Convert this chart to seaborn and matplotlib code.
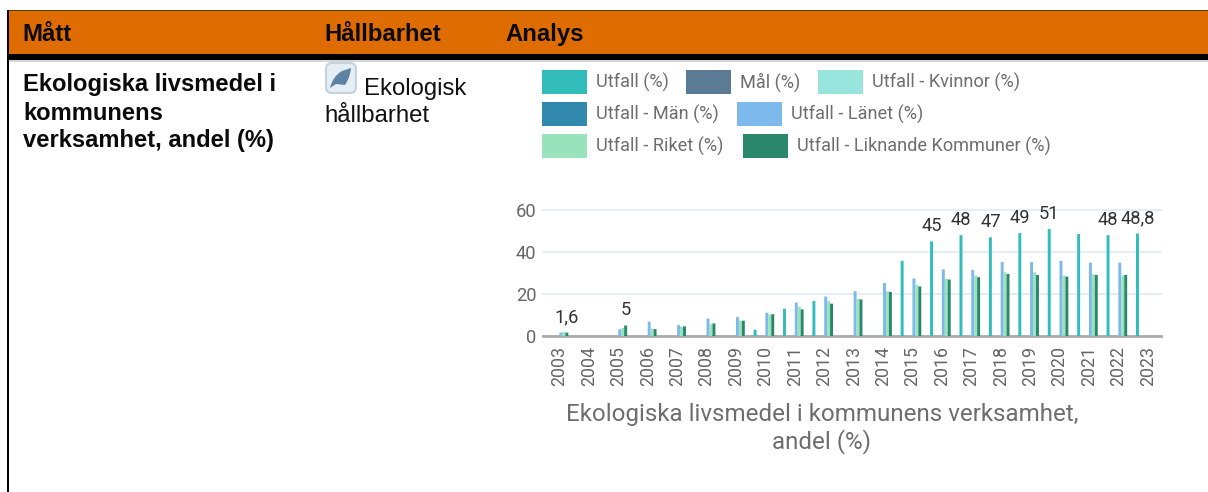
import numpy as np
import pandas as pd
import matplotlib
matplotlib.use("Agg")
import matplotlib.pyplot as plt
from matplotlib.patches import Rectangle, FancyBboxPatch, PathPatch
from matplotlib.path import Path
from matplotlib.transforms import ScaledTranslation
import seaborn as sns

years = [str(y) for y in range(2003, 2024)]
nan = float("nan")
utfall = [nan, nan, nan, nan, nan, nan, nan, 3, 13, 16.7, nan, nan, 35.8, 45, 48, 47, 49, 51, 48.6, 48, 48.8]
mal = [nan] * 21
kvinnor = [nan] * 21
man = [nan] * 21
lanet = [1.6, nan, 3.2, 6.8, 5.2, 8.3, 9, 11.1, 15.9, 18.8, 21.3, 25.2, 27.4, 31.7, 31.5, 35.2, 35.2, 35.8, 34.9, 34.9, nan]
riket = [1.9, nan, 3.8, 3.5, 4.3, 5.6, 7.3, 10.2, 13.9, 16.7, 17.7, 21.3, 24.4, 27.2, 28.8, 30.3, 30.3, 28.8, 29.3, 28.8, nan]
liknande = [1.6, nan, 5, 3.3, 4.6, 6, 7.3, 10.4, 12.7, 15.4, 17.4, 21, 23.6, 26.9, 28, 29.5, 29.1, 28.3, 29.1, 29.1, nan]
series_names = ["Utfall (%)", "Mål (%)", "Utfall - Kvinnor (%)", "Utfall - Män (%)",
                "Utfall - Länet (%)", "Utfall - Riket (%)", "Utfall - Liknande Kommuner (%)"]
series_values = [utfall, mal, kvinnor, man, lanet, riket, liknande]
colors = ["#33BDBA", "#5B7A93", "#98E5DE", "#3189AE", "#7DB9EA", "#99E3BC", "#2A8769"]
labelled_utfall = {"2016": "45", "2017": "48", "2018": "47", "2019": "49", "2020": "51", "2022": "48", "2023": "48,8"}
labelled_liknande = {"2003": "1,6", "2005": "5"}

W, H = 1208, 492
sns.set_theme(style="white")
plt.rcParams["font.family"] = ["Roboto", "DejaVu Sans"]
fig = plt.figure(figsize=(W / 100, H / 100), dpi=100, facecolor="white")

# page overlay in pixel coordinates
bg = fig.add_axes([0, 0, 1, 1], zorder=0)
bg.set_xlim(0, W); bg.set_ylim(H, 0); bg.axis("off")
bg.add_patch(Rectangle((7, 10), W - 7, 44, fc="#DF6C00", ec="none"))
bg.add_patch(Rectangle((7, 9.5), W - 7, 1.5, fc="#5A3A10", ec="none"))
bg.add_patch(Rectangle((7, 54), W - 7, 6, fc="black", ec="none"))
bg.add_patch(Rectangle((7, 60), W - 7, 1.5, fc="#D8D8D8", ec="none"))
bg.add_patch(Rectangle((7, 10), 1.5, H - 10, fc="black", ec="none"))

sans = "Liberation Sans"
for x, s in [(22.5, "Mått"), (324.5, "Hållbarhet"), (505.5, "Analys")]:
    bg.text(x, 34.5, s, family=sans, weight="bold", fontsize=17.2, color="#0A0A0A", va="center", ha="left")
for y, s in [(85, "Ekologiska livsmedel i"), (113, "kommunens"), (140.5, "verksamhet, andel (%)")]:
    bg.text(23, y, s, family=sans, weight="bold", fontsize=17.1, color="#0A0A0A", va="center", ha="left")
bg.text(364, 88.5, "Ekologisk", family=sans, fontsize=17.2, color="#111111", va="center", ha="left")
bg.text(324.5, 115.5, "hållbarhet", family=sans, fontsize=17.2, color="#111111", va="center", ha="left")
bg.add_patch(FancyBboxPatch((326, 63), 30, 30, boxstyle="round,pad=0,rounding_size=6",
                            fc="#E6EEF5", ec="#C4D2E0", lw=1.5))
leaf = Path([(330, 88), (333, 76), (342, 71), (351, 68), (350, 78), (345, 85), (336, 84), (330, 88)],
            [Path.MOVETO, Path.CURVE3, Path.CURVE3, Path.LINETO, Path.CURVE3, Path.CURVE3, Path.LINETO, Path.LINETO])
bg.add_patch(PathPatch(leaf, fc="#5F83A3", ec="none"))

# legend
legend_rows = [
    [(542, 0), (686, 1), (818, 2)],
    [(542, 3), (737, 4)],
    [(542, 5), (743, 6)],
]
for (ry, row) in zip([82, 114, 146], legend_rows):
    for x, i in row:
        bg.add_patch(Rectangle((x, ry - 12), 45, 24, fc=colors[i], ec="none"))
        bg.text(x + 54, ry + 0.7, series_names[i], color="#6E6E6E", fontsize=13.1, va="center", ha="left")

bg.text(822, 415, "Ekologiska livsmedel i kommunens verksamhet,", color="#6E6E6E",
        fontsize=17.4, ha="center", va="center")
bg.text(822, 442, "andel (%)", color="#6E6E6E", fontsize=17.4, ha="center", va="center")

# chart
long = pd.DataFrame({
    "year": np.tile(years, len(series_names)),
    "serie": np.repeat(series_names, len(years)),
    "value": np.concatenate(series_values),
})
ax = fig.add_axes([543.3 / W, 1 - 336 / H, (1161 - 543.3) / W, 126 / H], zorder=2)
ax.patch.set_alpha(0)
sns.barplot(data=long, x="year", y="value", hue="serie", order=years, hue_order=series_names,
            palette=colors, saturation=1, width=0.7, gap=0, linewidth=0, errorbar=None,
            legend=False, ax=ax, zorder=3)
for bar in ax.patches:
    bar.set_snap(False)
ax.set_xlim(-0.5, 20.5)
ax.set_ylim(0, 60)
ax.set_yticks([0, 20, 40, 60])
ax.set_xlabel(""); ax.set_ylabel("")
ax.grid(axis="y", color="#E6ECF3", lw=1.5)
ax.grid(axis="x", visible=False)
ax.set_axisbelow(True)
for side in ["top", "right", "left"]:
    ax.spines[side].set_visible(False)
ax.spines["bottom"].set_color("#ABABAB")
ax.spines["bottom"].set_linewidth(2)
ax.set_xticks(range(21), years)
ax.tick_params(axis="x", length=0, pad=7, labelrotation=90, labelsize=12.8, labelcolor="#666666")
ax.tick_params(axis="y", length=0, pad=5, labelsize=13.2, labelcolor="#666666")
for gl in ax.get_ygridlines():
    gl.set_clip_on(False)
nudge = ScaledTranslation(1.5 / 100, 0, fig.dpi_scale_trans)
for lab in ax.get_xticklabels():
    lab.set_transform(lab.get_transform() + nudge)

offset = 0.7 / 7
for vals, texts, k in [(utfall, labelled_utfall, -3), (liknande, labelled_liknande, 3)]:
    for i, yr in enumerate(years):
        if yr in texts:
            ax.annotate(texts[yr], (i + k * offset, vals[i]), xytext=(0, 4.6), textcoords="offset points",
                        ha="center", va="bottom", fontsize=13.2, color="#333333", annotation_clip=False)

fig.savefig("out.png", dpi=100, facecolor="white")
